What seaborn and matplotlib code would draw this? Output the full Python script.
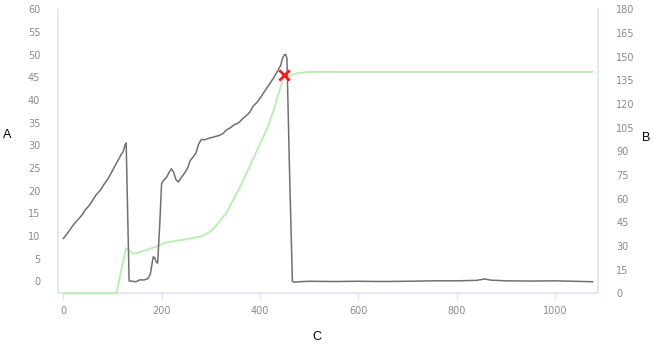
import matplotlib
matplotlib.use("Agg")
import matplotlib.pyplot as plt
import seaborn as sns
import pandas as pd

# ---- data ----
gray_x = [0, 8, 15, 23, 30, 38, 45, 52, 60, 67, 75, 83, 91, 98, 105, 112, 118, 122, 126, 128,
          131, 134, 140, 148, 155, 165, 172, 177, 180, 183, 186, 189, 192, 196, 200, 204, 210,
          215, 220, 224, 229, 234, 240, 247, 253, 258, 264, 270, 275, 281, 287, 295, 305, 318,
          325, 332, 339, 347, 354, 359, 366, 373, 380, 386, 395, 404, 413, 420, 428, 436, 442,
          446, 450, 453, 455, 460, 466, 470, 480, 500, 550, 600, 650, 700, 750, 800, 840, 857,
          870, 900, 950, 1000, 1040, 1077]
gray_y = [9.4, 10.5, 11.6, 12.8, 13.6, 14.6, 15.8, 16.6, 17.9, 19.1, 20.0, 21.4, 22.6, 24.0,
          25.4, 26.8, 28.0, 28.6, 30.2, 30.5, 15.0, 0.1, 0.0, -0.1, 0.3, 0.3, 0.6, 1.5, 3.5,
          5.4, 5.2, 4.3, 4.0, 12.0, 21.5, 22.3, 22.9, 24.0, 24.8, 24.2, 22.5, 21.9, 22.9, 23.9,
          25.0, 26.6, 27.4, 28.3, 30.2, 31.3, 31.2, 31.5, 31.8, 32.2, 32.6, 33.4, 33.8, 34.5,
          34.8, 35.2, 36.0, 36.6, 37.4, 38.6, 39.6, 41.0, 42.5, 43.6, 44.9, 46.4, 47.6, 49.2,
          50.0, 50.0, 49.0, 25.0, 0.0, -0.2, -0.1, 0.0, -0.05, 0.0, -0.05, 0.0, 0.1, 0.1, 0.2,
          0.5, 0.25, 0.1, 0.05, 0.1, 0.0, -0.1]

green_x = [0, 108, 127.5, 133, 142, 150, 170, 186, 196, 207, 224, 250, 264, 280, 290, 298, 310,
           320, 333, 346, 362, 380, 397, 414, 428, 441, 449.5, 455, 461, 470, 481, 495, 505, 1077]
green_y = [0, 0, 28.5, 27.5, 25.2, 25.6, 27.5, 29.2, 30.5, 32.0, 33.0, 34.2, 35.2, 35.8, 37.5,
           39.0, 42.5, 46.5, 51.5, 59.5, 69.0, 81.0, 92.5, 104.0, 116.0, 130.0, 138.0, 137.5,
           137.6, 139.0, 139.7, 140.2, 140.3, 140.3]

marker_x = [449.5]
marker_y = [45.4]

left_ticks = list(range(0, 61, 5))
right_ticks = list(range(0, 181, 15))
x_ticks = [0, 200, 400, 600, 800, 1000]

gray_df = pd.DataFrame({"x": gray_x, "y": gray_y})
green_df = pd.DataFrame({"x": green_x, "y": green_y})
mark_df = pd.DataFrame({"x": marker_x, "y": marker_y})

sns.set_style("white")
plt.rcParams["font.family"] = ["DejaVu Sans"]

fig = plt.figure(figsize=(6.53, 3.48), dpi=100)
ax = fig.add_axes([0.0893, 0.1572, 0.8269, 0.8161])
ax2 = ax.twinx()

spine_col = "#dfe4f0"
tick_col = "#8a8a8a"

sns.lineplot(data=gray_df, x="x", y="y", ax=ax, color="#707070", linewidth=1.1,
             estimator=None, sort=False)
sns.lineplot(data=green_df, x="x", y="y", ax=ax2, color="#b6eeae", linewidth=1.3,
             estimator=None, sort=False)
for ln in ax2.get_lines():
    ln.set_clip_on(False)
    ln.set_zorder(3)
ax.set_zorder(ax2.get_zorder() + 1)
ax.patch.set_visible(False)
sns.scatterplot(data=mark_df, x="x", y="y", ax=ax, marker="x", color="#ff1a1a", s=55,
                linewidth=2, zorder=5)

ax.set_xlim(-10, 1088)
ax.set_ylim(-2.65, 60)
ax2.set_ylim(0, 180)
ax.set_xticks(x_ticks)
ax.set_yticks(left_ticks)
ax2.set_yticks(right_ticks)

for a in (ax, ax2):
    for s in a.spines.values():
        s.set_color(spine_col)
        s.set_linewidth(1.2)
    a.spines["top"].set_visible(False)
    a.grid(False)
ax.spines["bottom"].set_visible(False)
ax.spines["right"].set_visible(False)
ax2.spines["left"].set_visible(False)

ax.tick_params(axis="x", colors=tick_col, labelsize=7, length=4, width=1, pad=5,
               color=spine_col, direction="out", bottom=True)
ax.tick_params(axis="y", colors=tick_col, labelsize=7, length=0, pad=13)
ax2.tick_params(axis="y", colors=tick_col, labelsize=7, length=0, pad=13)
for lbl in ax.get_xticklabels() + ax.get_yticklabels() + ax2.get_yticklabels():
    lbl.set_color(tick_col)

ax.set_xlabel("C", fontsize=9, color="black", family="Liberation Sans")
ax.set_ylabel("A", fontsize=9, color="black", rotation=0, family="Liberation Sans")
ax2.set_ylabel("B", fontsize=9, color="black", rotation=0, family="Liberation Sans")
ax.xaxis.set_label_coords(0.4785, -0.155)
ax.yaxis.set_label_coords(-0.0956, 0.557)
ax2.yaxis.set_label_coords(1.088, 0.547)
for lab in (ax.xaxis.label, ax.yaxis.label, ax2.yaxis.label):
    lab.set_va("center")
    lab.set_ha("center")

fig.savefig("out.png", dpi=100)
